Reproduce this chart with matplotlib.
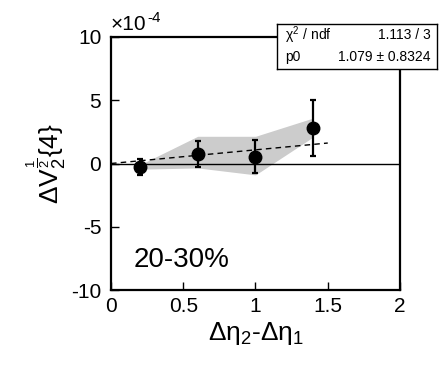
import numpy as np
import matplotlib.pyplot as plt

plt.rcParams['font.family'] = ['Liberation Sans', 'DejaVu Sans']
plt.rcParams['mathtext.fontset'] = 'custom'
plt.rcParams['mathtext.rm'] = 'Liberation Sans'
plt.rcParams['mathtext.it'] = 'Liberation Sans'
plt.rcParams['axes.unicode_minus'] = False

# data (units of 1e-4)
x = [0.2, 0.6, 1.0, 1.4]
y = [-0.28, 0.75, 0.55, 2.8]
yerr = [0.6, 1.0, 1.3, 2.2]
band_hi = [-0.1, 2.15, 2.15, 3.6]
band_lo = [-0.45, -0.35, -0.9, 2.1]
p0 = 1.079
fit_x = [0.0, 1.5]

fig = plt.figure(figsize=(4.46, 3.74), dpi=100)
ax = fig.add_axes([111/446, 1 - 290/374, 289/446, 253/374])

ax.fill_between(x, band_lo, band_hi, color='#cccccc', lw=0, zorder=1)
ax.axhline(0, color='black', lw=1, zorder=2)
fx = np.array(fit_x)
ax.plot(fx, p0 * fx, 'k--', lw=1, dashes=(4, 3), zorder=3)
ax.errorbar(x, y, yerr=yerr, fmt='o', color='black', ms=9, elinewidth=1.6,
            capsize=2, capthick=1.6, zorder=4)

ax.set_xlim(0, 2)
ax.set_ylim(-10, 10)
ax.set_xticks([0, 0.5, 1, 1.5, 2])
ax.set_xticklabels(['0', '0.5', '1', '1.5', '2'])
ax.set_yticks([-10, -5, 0, 5, 10])
ax.tick_params(direction='in', labelsize=15, length=6, width=1, top=False, right=False)
ax.tick_params(axis='x', pad=5)
ax.tick_params(axis='y', pad=7)
for s in ax.spines.values():
    s.set_linewidth(1.6)

ax.set_xlabel(r'$\Delta\eta_2$-$\Delta\eta_1$', fontsize=19, labelpad=3)
ax.set_ylabel(r'$\Delta V_2^{\frac{1}{2}}\{4\}$', fontsize=19, labelpad=2)
# exponent label, hyphen kept as in the original
fig.text(111/446, 1 - 25/374, '×10', fontsize=15, va='center', ha='left')
fig.text(147/446, 1 - 18/374, '-4', fontsize=11, va='center', ha='left')

ax.text(0.08, 0.12, '20-30%', transform=ax.transAxes, fontsize=20, va='center')

# stats box
bx = fig.add_axes([277/446, 1 - 69/374, 160/446, 45/374])
bx.set_xticks([])
bx.set_yticks([])
bx.set_zorder(5)
for s in bx.spines.values():
    s.set_linewidth(1)
bx.text(0.05, 0.75, r'$\chi^2$ / ndf', fontsize=10, va='center')
bx.text(0.96, 0.75, '1.113 / 3', fontsize=10, va='center', ha='right')
bx.text(0.05, 0.27, 'p0', fontsize=10, va='center')
bx.text(0.96, 0.27, '1.079 ± 0.8324', fontsize=10, va='center', ha='right')

fig.savefig('out.png', dpi=100)
